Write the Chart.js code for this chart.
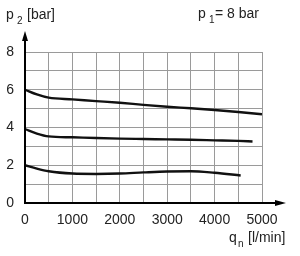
<!DOCTYPE html>
<html>
<head>
<meta charset="utf-8">
<script src="https://cdn.jsdelivr.net/npm/chart.js@4"></script>
<style>
    html, body { margin: 0; padding: 0; background: #fff; }
    #wrap { width: 300px; height: 256px; }
</style>
</head>
<body>
<div id="wrap"><canvas id="chart" width="300" height="256"></canvas></div>
<script>
    // flow q_n [l/min] and outlet pressure p2 [bar]
    const flow6 = [0, 250, 500, 1000, 1500, 2000, 2500, 3000, 3500, 4000, 4500, 5000];
    const p2at6 = [6.0, 5.75, 5.58, 5.49, 5.40, 5.31, 5.20, 5.10, 5.02, 4.93, 4.82, 4.70];

    const flow4 = [0, 250, 500, 1000, 1500, 2000, 2500, 3000, 3500, 4000, 4500, 4800];
    const p2at4 = [3.92, 3.68, 3.53, 3.48, 3.44, 3.41, 3.39, 3.37, 3.35, 3.32, 3.29, 3.26];

    const flow2 = [0, 250, 500, 1000, 1500, 2000, 2500, 3000, 3500, 4000, 4550];
    const p2at2 = [2.0, 1.82, 1.68, 1.56, 1.54, 1.56, 1.62, 1.67, 1.68, 1.60, 1.46];

    const xLabelEvery = 1000;
    const yLabelEvery = 2;

    const toPoints = (xs, ys) => xs.map((x, i) => ({ x: x, y: ys[i] }));
    const font = 'Liberation Sans, Arial, sans-serif';

    function curve(xs, ys) {
        return {
            data: toPoints(xs, ys),
            borderColor: '#111',
            borderWidth: 2.4,
            pointRadius: 0,
            cubicInterpolationMode: 'monotone',
            fill: false
        };
    }

    // axis arrows and the labels with subscripts
    const decorations = {
        id: 'decorations',
        afterDraw(chart) {
            const ctx = chart.ctx;
            const a = chart.chartArea;
            ctx.save();
            ctx.strokeStyle = '#000';
            ctx.fillStyle = '#000';
            ctx.lineWidth = 2;

            // y axis
            ctx.beginPath();
            ctx.moveTo(a.left, a.bottom + 1);
            ctx.lineTo(a.left, 38);
            ctx.stroke();
            ctx.beginPath();
            ctx.moveTo(a.left, 31);
            ctx.lineTo(a.left - 3, 41);
            ctx.lineTo(a.left + 3, 41);
            ctx.closePath();
            ctx.fill();

            // x axis
            ctx.beginPath();
            ctx.moveTo(a.left - 1, a.bottom);
            ctx.lineTo(278, a.bottom);
            ctx.stroke();
            ctx.beginPath();
            ctx.moveTo(286, a.bottom);
            ctx.lineTo(275, a.bottom - 3);
            ctx.lineTo(275, a.bottom + 3);
            ctx.closePath();
            ctx.fill();

            ctx.fillStyle = '#222';
            ctx.textBaseline = 'alphabetic';
            ctx.textAlign = 'left';

            // main letter, subscript, rest of the label
            function sub(x, y, main, s, sx, rest, rx) {
                ctx.font = '14px ' + font;
                ctx.fillText(main, x, y);
                ctx.fillText(rest, rx, y);
                ctx.font = '10px ' + font;
                ctx.fillText(s, sx, y + 5);
            }

            sub(6, 19, 'p', '2', 17, '[bar]', 27);
            sub(198, 18, 'p', '1', 209, '= 8 bar', 215);
            sub(229, 242, 'q', 'n', 238, '[l/min]', 248);
            ctx.restore();
        }
    };

    new Chart(document.getElementById('chart'), {
        type: 'line',
        data: {
            datasets: [curve(flow6, p2at6), curve(flow4, p2at4), curve(flow2, p2at2)]
        },
        options: {
            responsive: false,
            animation: false,
            layout: { padding: { top: 52, right: 38, left: 0, bottom: 0 } },
            plugins: {
                legend: { display: false },
                tooltip: { enabled: false }
            },
            scales: {
                x: {
                    type: 'linear',
                    min: 0,
                    max: 5000,
                    afterFit: (s) => { s.height = 53; },
                    border: { display: false },
                    grid: { color: '#9a9a9a', lineWidth: 1, drawTicks: false },
                    ticks: {
                        stepSize: 500,
                        padding: 9,
                        maxRotation: 0,
                        autoSkip: false,
                        color: '#222',
                        font: { family: font, size: 14 },
                        callback: (v) => (v % xLabelEvery === 0 ? String(v) : '')
                    }
                },
                y: {
                    min: 0,
                    max: 8,
                    afterFit: (s) => { s.width = 25; },
                    border: { display: false },
                    grid: { color: '#9a9a9a', lineWidth: 1, drawTicks: false },
                    ticks: {
                        stepSize: 1,
                        padding: 11,
                        autoSkip: false,
                        color: '#222',
                        font: { family: font, size: 14 },
                        callback: (v) => (v % yLabelEvery === 0 ? String(v) : '')
                    }
                }
            }
        },
        plugins: [decorations]
    });
</script>
</body>
</html>
